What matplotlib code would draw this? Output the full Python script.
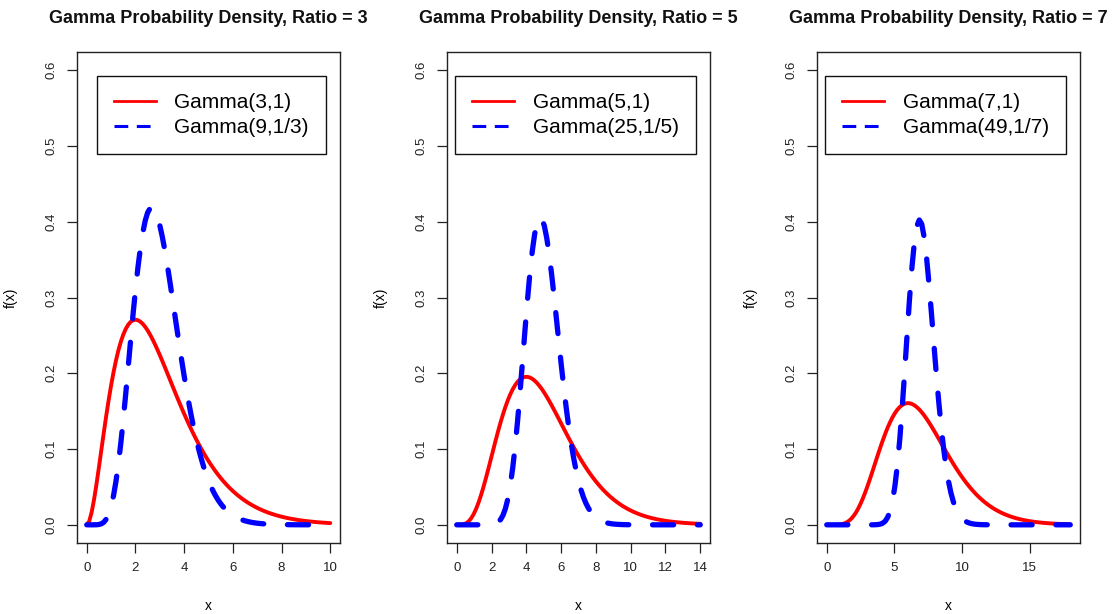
import math
import numpy as np
import matplotlib
matplotlib.use("Agg")
import matplotlib.pyplot as plt
from matplotlib.lines import Line2D

plt.rcParams["font.family"] = ["Liberation Sans", "DejaVu Sans"]

# gamma(shape, scale) pairs for each panel
ratios = [3, 5, 7]
shape_a = [3, 5, 7]
scale_a = [1, 1, 1]
shape_b = [9, 25, 49]
scale_b = [1 / 3, 1 / 5, 1 / 7]
x_max = [10, 14, 18]
x_ticks = [[0, 2, 4, 6, 8, 10], [0, 2, 4, 6, 8, 10, 12, 14], [0, 5, 10, 15]]
labels_a = ["Gamma(3,1)", "Gamma(5,1)", "Gamma(7,1)"]
labels_b = ["Gamma(9,1/3)", "Gamma(25,1/5)", "Gamma(49,1/7)"]
y_ticks = [0.0, 0.1, 0.2, 0.3, 0.4, 0.5, 0.6]


def dgamma(x, k, theta):
    out = np.zeros_like(x)
    pos = x > 0
    xp = x[pos]
    out[pos] = np.exp((k - 1) * np.log(xp) - xp / theta
                      - math.lgamma(k) - k * math.log(theta))
    return out


W, H = 1120, 614
fig = plt.figure(figsize=(W / 100, H / 100), dpi=100)

lefts = [77, 447, 817]
ax_w, ax_top, ax_bot = 263, 52, 543

for i in range(3):
    ax = fig.add_axes([lefts[i] / W, 1 - ax_bot / H, ax_w / W, (ax_bot - ax_top) / H])
    x = np.linspace(0, x_max[i], 101)
    ya = dgamma(x, shape_a[i], scale_a[i])
    yb = dgamma(x, shape_b[i], scale_b[i])
    ax.plot(x, ya, color="#ff0000", lw=2.8, solid_capstyle="round", zorder=2)
    ax.plot(x, yb, color="#0000ff", lw=3.8, dashes=(4, 4.5),
            dash_capstyle="round", zorder=3)

    pad = 0.04
    ax.set_xlim(-pad * x_max[i], x_max[i] * (1 + pad))
    ax.set_ylim(-pad * 0.6, 0.6 * (1 + pad))
    ax.set_xticks(x_ticks[i])
    ax.set_xticklabels([str(t) for t in x_ticks[i]])
    ax.set_yticks(y_ticks)
    ax.set_yticklabels(["%.1f" % t for t in y_ticks], rotation=90, va="center")
    ax.tick_params(direction="out", length=7, width=0.9, labelsize=9.5,
                   colors="#222222", pad=7)
    for s in ax.spines.values():
        s.set_linewidth(1.0)
        s.set_color("#222222")

    ax.set_title("Gamma Probability Density, Ratio = %d" % ratios[i],
                 fontsize=13, fontweight="bold", pad=21, color="#111111")
    ax.set_xlabel("x", fontsize=10)
    ax.set_ylabel("f(x)", fontsize=10)
    ax.xaxis.set_label_coords(0.5, -0.115)
    ax.yaxis.set_label_coords(-0.225, 0.5)

    handles = [
        Line2D([], [], color="#ff0000", lw=2.0),
        Line2D([], [], color="#0000ff", lw=2.2, dashes=(4.5, 2.8)),
    ]
    leg = ax.legend(handles, [labels_a[i], labels_b[i]],
                    loc="upper right", bbox_to_anchor=(1 - 14 / ax_w, 0.951),
                    borderaxespad=0, fontsize=15, fancybox=False,
                    edgecolor="#111111", framealpha=1, borderpad=0.82,
                    handlelength=2.0, handletextpad=0.9, labelspacing=0.29)
    leg.get_frame().set_linewidth(1.0)

fig.savefig("out.png", dpi=100, facecolor="white")
